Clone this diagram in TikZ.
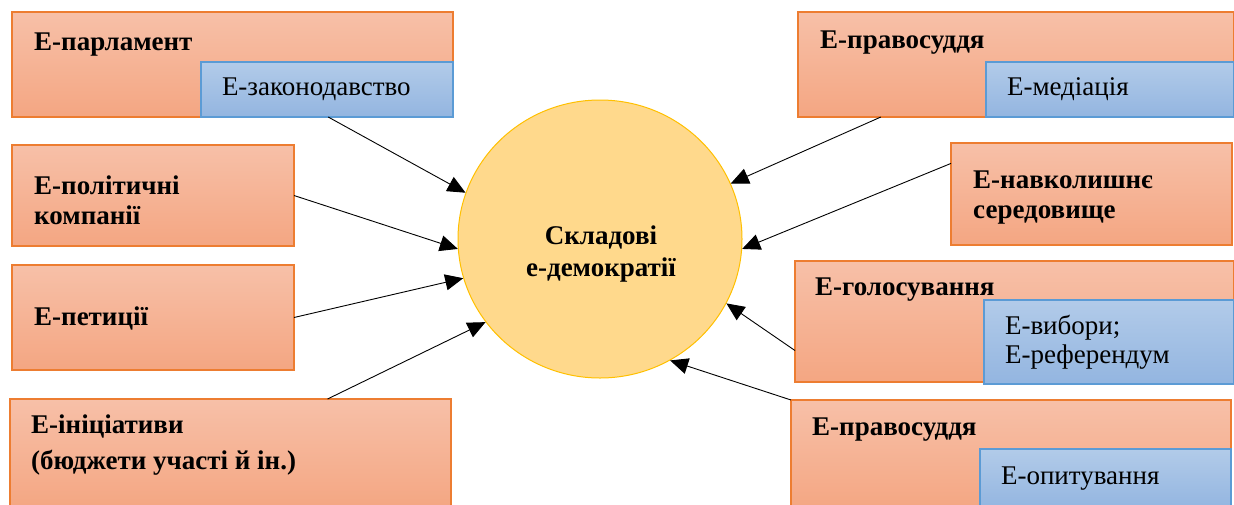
\documentclass[tikz,border=0pt]{standalone}
\usepackage{fontspec}
\setmainfont{Liberation Serif}
\usetikzlibrary{arrows.meta,calc,shapes.geometric}
\definecolor{salmontop}{HTML}{F7C0A8}
\definecolor{salmonbot}{HTML}{F4A682}
\definecolor{salmonline}{HTML}{ED7D31}
\definecolor{bluetop}{HTML}{B2CBE9}
\definecolor{bluebot}{HTML}{93B5E0}
\definecolor{blueline}{HTML}{5B9BD5}
\definecolor{sunfill}{HTML}{FFD98C}
\definecolor{sunline}{HTML}{FFC000}
\tikzset{
outerbox/.style={
	draw=salmonline, line width=1.2pt, top color=salmontop,
	bottom color=salmonbot, anchor=north west, inner sep=0pt, outer sep=0pt},
innerbox/.style={
	draw=blueline, line width=1.2pt, top color=bluetop, bottom color=bluebot,
	anchor=north west, inner xsep=21pt, inner ysep=0pt, outer sep=0pt,
	align=left, font=\fontsize{27}{29}\selectfont},
title/.style={anchor=west, align=left, inner sep=0pt,
	font=\bfseries\fontsize{27}{30}\selectfont},
link/.style={-{Triangle[length=18pt,width=16pt]}, line width=0.9pt}
}

\begin{document}
\begin{tikzpicture}[x=1pt, y=-1pt]
	\useasboundingbox (0,0) rectangle (1234,504);
	% centre
	\node[ellipse, draw=sunline, fill=sunfill, line width=1pt, minimum width=284pt,
		minimum height=278pt, inner sep=0pt] (core) at (600,239) {};
	\node[title, anchor=center, align=center, font=\bfseries\fontsize{27}{32}\selectfont]
		(tcore) at (601,254) {Складові\\е-демократії};
	% left column
	\node[outerbox, minimum width=441pt, minimum height=105pt] (parl) at (12,12) {};
	\node[innerbox, text width=210pt, minimum height=55pt] (zakon) at (201,62) {Е-законодавство};
	\node[title] (tparl) at ($(parl.north west)+(22,33)$) {Е-парламент};
	\node[outerbox, minimum width=282pt, minimum height=101pt] (polit) at (12,145) {};
	\node[title] (tpolit) at ($(polit.north west)+(22,55)$) {Е-політичні\\компанії};
	\node[outerbox, minimum width=282pt, minimum height=105pt] (petit) at (12,265) {};
	\node[title] (tpetit) at ($(petit.north west)+(22,53)$) {Е-петиції};
	\node[outerbox, minimum width=441pt, minimum height=110pt] (init) at (10,399) {};
	\node[title, font=\bfseries\fontsize{27}{36}\selectfont] (tinit) at ($(init.north west)+(21,46)$)
		{Е-ініціативи\\(бюджети участі й ін.)};
	% right column
	\node[outerbox, minimum width=436pt, minimum height=105pt] (just) at (798,12) {};
	\node[innerbox, text width=206pt, minimum height=55pt] (medi) at (986,62) {Е-медіація};
	\node[title] (tjust) at ($(just.north west)+(22,31)$) {Е-правосуддя};
	\node[outerbox, minimum width=281pt, minimum height=102pt] (envir) at (951,143) {};
	\node[title] (tenvir) at ($(envir.north west)+(22,55)$) {Е-навколишнє\\середовище};
	\node[outerbox, minimum width=439pt, minimum height=121pt] (vote) at (795,261) {};
	\node[innerbox, text width=208pt, minimum height=84pt] (elect) at (984,300) {Е-вибори;\\Е-референдум};
	\node[title] (tvote) at ($(vote.north west)+(20,29)$) {Е-голосування};
	\node[outerbox, minimum width=440pt, minimum height=110pt] (poll) at (791,400) {};
	\node[innerbox, text width=209pt, minimum height=60pt] (survey) at (980,449) {Е-опитування};
	\node[title] (tpoll) at ($(poll.north west)+(21,30)$) {Е-правосуддя};
	% links
	\coordinate (s1) at ($(parl.south west)!0.717!(parl.south east)$);
	\coordinate (s4) at ($(init.north west)!0.72!(init.north east)$);
	\coordinate (s5) at ($(just.south west)!0.19!(just.south east)$);
	\coordinate (s6) at ($(envir.north west)!0.2!(envir.south west)$);
	\coordinate (s7) at ($(vote.north west)!0.74!(vote.south west)$);
	\draw[link] (s1) -- (core.161);
	\draw[link] (polit.east) -- (core.184);
	\draw[link] (petit.east) -- (core.196);
	\draw[link] (s4) -- (core.216);
	\draw[link] (s5) -- (core.23);
	\draw[link] (s6) -- (core.356);
	\draw[link] (s7) -- (core.333);
	\draw[link] (poll.north west) -- (core.300);
\end{tikzpicture}
\end{document}
